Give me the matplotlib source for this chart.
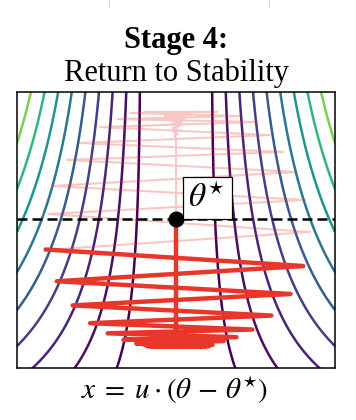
import numpy as np
import matplotlib
matplotlib.use('Agg')
import matplotlib.pyplot as plt
from matplotlib.lines import Line2D

plt.rcParams['font.family'] = ['Liberation Serif', 'DejaVu Serif']
plt.rcParams['mathtext.fontset'] = 'stix'

# ==================== data ====================
# contour levels of the loss landscape (level k = k-th line from the centre)
levels = [1, 2, 3, 4, 5, 6, 7, 8, 9]

# earlier stages (faded): up from theta*, oscillation blows up, then comes back down
pink_x = [0.0, 0.0, -0.009, 0.009, -0.016, 0.016, -0.022, 0.025, -0.031, 0.038,
          -0.050, 0.057, -0.069, 0.088, -0.10, 0.151, -0.195, 0.258,
          -0.289, 0.403, -0.365, 0.509, -0.478, 0.591, -0.604, 0.673,
          -0.686, 0.761, -0.780, 0.811, -0.805, 0.843, -0.824]
pink_y = [0.0, 0.638, 0.654, 0.669, 0.685, 0.701, 0.717, 0.732, 0.748, 0.764,
          0.780, 0.795, 0.811, 0.827, 0.835, 0.843, 0.843, 0.843,
          0.835, 0.811, 0.787, 0.764, 0.724, 0.661, 0.598, 0.528,
          0.465, 0.370, 0.260, 0.150, 0.039, -0.102, -0.244]

# stage 4: oscillation dies out, then sharpening brings it back to theta*
red_x = [-0.82, 0.80, -0.75, 0.72, -0.65, 0.60, -0.54, 0.48, -0.43, 0.38,
         -0.33, 0.30, -0.25, 0.23, -0.20, 0.21, -0.18, 0.19, -0.16, 0.16,
         -0.13, 0.12, -0.09, 0.07, -0.04, 0.02, 0.0, 0.0]
red_y = [-0.24, -0.37, -0.49, -0.59, -0.68, -0.76, -0.82, -0.87, -0.90, -0.93,
         -0.95, -0.96, -0.98, -0.99, -0.99, -1.00, -1.00, -1.00, -1.00, -1.00,
         -1.00, -0.99, -0.99, -0.98, -0.97, -0.95, -0.92, 0.0]

theta_star = (0.0, 0.0)

# ==================== figure ====================
fig = plt.figure(figsize=(3.56, 4.2), dpi=100)
ax = fig.add_axes([17 / 356, 52 / 420, 318 / 356, 276 / 420])

# loss landscape contours
gx = np.linspace(-1.0, 1.0, 700)
gy = np.linspace(-1.2, 1.02, 500)
X, Y = np.meshgrid(gx, gy)
width = 0.126 + 0.0157 * Y
scale = 8.36 + 3.59 * Y - 0.272 * Y ** 2
F = (np.abs(X) - width) * scale
cols = [plt.cm.viridis(0.8 * ((k - 1) / 8) ** 1.5) for k in levels]
ax.contour(X, Y, F, levels=levels, colors=cols, linewidths=1.8, zorder=1)

# trajectories
ax.plot(pink_x, pink_y, color='#e8372a', alpha=0.28, lw=1.5, zorder=2)
ax.plot(red_x, red_y, color='#e8372a', lw=3.2, solid_capstyle='round', zorder=3)

# edge of stability line and theta*
ax.axhline(0, color='black', lw=1.8, dashes=(4, 2), zorder=4)
ax.plot(*theta_star, 'o', color='black', ms=10.5, zorder=5)
ax.annotate(r'$\theta^{\star}$', xy=theta_star, xytext=(9, 4), textcoords='offset points',
            ha='left', va='bottom', fontsize=24, zorder=6,
            bbox=dict(boxstyle='square,pad=0.17', fc='white', ec='black', lw=0.9))

ax.set_xlim(-1, 1)
ax.set_ylim(-1.173, 1.0)
ax.set_xticks([])
ax.set_yticks([])
for sp in ax.spines.values():
    sp.set_linewidth(1.1)

# titles and axis label
fig.text(176 / 356, 1 - 48 / 420, 'Stage 4:', ha='center', va='baseline',
         fontsize=22, fontweight='bold')
fig.text(176 / 356, 1 - 81 / 420, 'Return to Stability', ha='center', va='baseline',
         fontsize=22)
fig.text(175 / 356, 1 - 398 / 420, r'$x\;=\;u\cdot(\theta\,-\,\theta^{\star})$',
         ha='center', va='baseline', fontsize=21)

# bits of the neighbouring panels' borders at the top
for xp in [109, 269]:
    fig.add_artist(Line2D([xp / 356, xp / 356], [1, 1 - 7 / 420], color='#dddddd', lw=0.8))

fig.savefig('out.png', dpi=100)
